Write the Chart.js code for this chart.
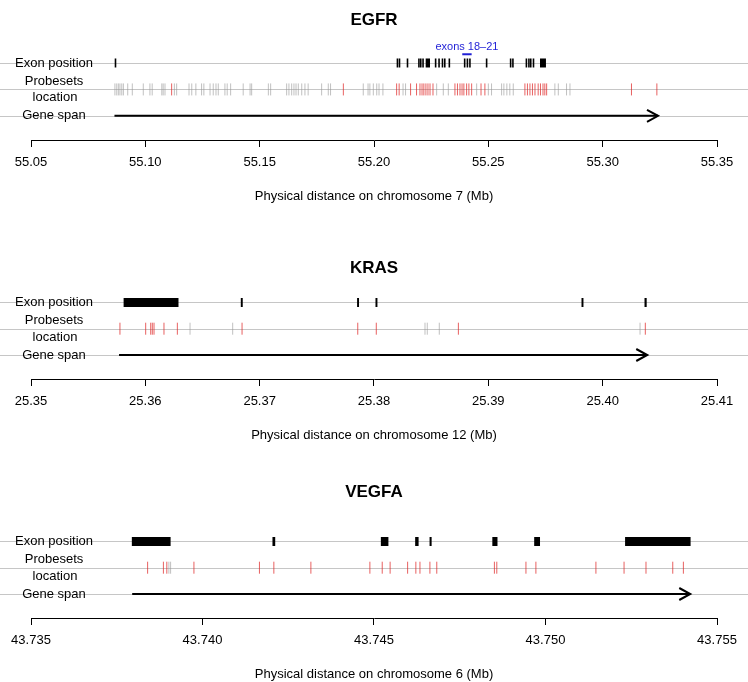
<!DOCTYPE html>
<html>
<head>
<meta charset="utf-8">
<script src="https://cdn.jsdelivr.net/npm/chart.js@4/dist/chart.umd.min.js"></script>
<style>
  html, body { margin: 0; padding: 0; background: #fff; }
  #wrap { position: relative; width: 748px; height: 682px; overflow: hidden; background: #fff; }
  #wrap canvas { position: absolute; left: 0; }
</style>
</head>
<body>
<div id="wrap">
  <canvas id="egfrChart"></canvas>
  <canvas id="krasChart"></canvas>
  <canvas id="vegfaChart"></canvas>
</div>
<script>
// row names (top to bottom)
const rowLabels = ['Exon position', ['Probesets', 'location'], 'Gene span'];

// EGFR - chromosome 7 (Mb)
const egfrRange = [55.05, 55.35];
const egfrTicks = [55.05, 55.10, 55.15, 55.20, 55.25, 55.30, 55.35];
const egfrSpan = [55.0865, 55.3242];
const egfrExonStart = [55.0866, 55.2099, 55.2108, 55.2143, 55.2193, 55.2201, 55.2211, 55.2226,
  55.2266, 55.2281, 55.2296, 55.2306, 55.2326, 55.2393, 55.2405, 55.2416, 55.2489, 55.2594,
  55.2604, 55.2663, 55.2674, 55.2682, 55.2694, 55.2726];
const egfrExonEnd = [55.0869, 55.2100, 55.2109, 55.2144, 55.2194, 55.2202, 55.2212, 55.2245,
  55.2267, 55.2282, 55.2297, 55.2307, 55.2327, 55.2394, 55.2406, 55.2417, 55.2490, 55.2595,
  55.2605, 55.2664, 55.2675, 55.2683, 55.2695, 55.2752];
const egfrProbeGray = [55.0867, 55.0875, 55.0882, 55.0889, 55.0897, 55.0904, 55.0923, 55.0943,
  55.0991, 55.1020, 55.1030, 55.1072, 55.1078, 55.1086, 55.1127, 55.1137, 55.1191, 55.1203,
  55.1221, 55.1246, 55.1256, 55.1283, 55.1297, 55.1309, 55.1319, 55.1348, 55.1358, 55.1373,
  55.1428, 55.1458, 55.1465, 55.1538, 55.1548, 55.1618, 55.1628, 55.1640, 55.1650, 55.1659,
  55.1669, 55.1684, 55.1698, 55.1712, 55.1771, 55.1800, 55.1810, 55.1953, 55.1974, 55.1982,
  55.1997, 55.2012, 55.2022, 55.2039, 55.2127, 55.2138, 55.2274, 55.2303, 55.2325, 55.2449,
  55.2500, 55.2514, 55.2558, 55.2568, 55.2581, 55.2594, 55.2609, 55.2791, 55.2806, 55.2842,
  55.2857];
const egfrProbeRed = [55.1115, 55.1866, 55.2099, 55.2110, 55.2160, 55.2186, 55.2201, 55.2210,
  55.2218, 55.2227, 55.2236, 55.2245, 55.2258, 55.2354, 55.2365, 55.2376, 55.2385, 55.2393,
  55.2405, 55.2415, 55.2427, 55.2468, 55.2485, 55.2660, 55.2671, 55.2682, 55.2693, 55.2704,
  55.2718, 55.2728, 55.2739, 55.2747, 55.2755, 55.3126, 55.3237];
const egfrHighlight = [55.2386, 55.2427];
const egfrHighlightLabel = 'exons 18\u201321';

// KRAS - chromosome 12 (Mb)
const krasRange = [25.35, 25.41];
const krasTicks = [25.35, 25.36, 25.37, 25.38, 25.39, 25.40, 25.41];
const krasSpan = [25.3577, 25.4039];
const krasExonStart = [25.3581, 25.36835, 25.37852, 25.38013, 25.39815, 25.40366];
const krasExonEnd = [25.3629, 25.36852, 25.37869, 25.38030, 25.39832, 25.40385];
const krasProbeGray = [25.36391, 25.36764, 25.38446, 25.38466, 25.38571, 25.40327];
const krasProbeRed = [25.35778, 25.36003, 25.36047, 25.36061, 25.36076, 25.36163, 25.36280,
  25.36846, 25.37858, 25.38020, 25.38738, 25.40373];

// VEGFA - chromosome 6 (Mb)
const vegfaRange = [43.735, 43.755];
const vegfaTicks = [43.735, 43.740, 43.745, 43.750, 43.755];
const vegfaSpan = [43.73795, 43.75422];
const vegfaExonStart = [43.73794, 43.74204, 43.74520, 43.74620, 43.74662, 43.74845, 43.74967, 43.75232];
const vegfaExonEnd = [43.73907, 43.74212, 43.74542, 43.74630, 43.74668, 43.74860, 43.74984, 43.75423];
const vegfaProbeGray = [43.73902, 43.73907];
const vegfaProbeRed = [43.73840, 43.73886, 43.73896, 43.73975, 43.74166, 43.74208, 43.74316,
  43.74488, 43.74524, 43.74547, 43.74598, 43.74622, 43.74634, 43.74663, 43.74683, 43.74851,
  43.74858, 43.74943, 43.74972, 43.75147, 43.75229, 43.75293, 43.75371, 43.75402];

const FONT = '"Liberation Sans", Arial, Helvetica, sans-serif';
Chart.defaults.font.family = FONT;
Chart.defaults.color = '#000';

// page layout (pixels)
const X_AXIS_H = 64;
const ROW_PX = 26.3;
const AXIS_GAP = 24;           // gene span row to axis line
const Y_MAX = 3.6;
const Y_MIN = 1 - AXIS_GAP / ROW_PX;
const TITLE_SIZE = 17;
const TITLE_LH = TITLE_SIZE * 1.2;

// draws the grey track lines, row names, arrow head and exon note
const trackPlugin = {
  id: 'tracks',
  beforeDatasetsDraw(chart) {
    const { ctx, width } = chart;
    const y = chart.scales.y;
    ctx.save();
    ctx.strokeStyle = '#c6c6c6';
    ctx.lineWidth = 1;
    [3, 2, 1].forEach(r => {
      const py = Math.round(y.getPixelForValue(r)) + 0.5;
      ctx.beginPath();
      ctx.moveTo(0, py);
      ctx.lineTo(width, py);
      ctx.stroke();
    });
    ctx.restore();
  },
  afterDatasetsDraw(chart, args, opts) {
    const { ctx } = chart;
    const x = chart.scales.x;
    const y = chart.scales.y;
    ctx.save();
    ctx.fillStyle = '#000';
    ctx.font = '13px ' + FONT;
    ctx.textAlign = 'center';
    ctx.textBaseline = 'middle';
    ctx.fillText(rowLabels[0], 54, y.getPixelForValue(3));
    ctx.fillText(rowLabels[1][0], 54, y.getPixelForValue(2) - 7.8);
    ctx.fillText(rowLabels[1][1], 55, y.getPixelForValue(2) + 8.4);
    ctx.fillText(rowLabels[2], 54, y.getPixelForValue(1));

    // arrow head at gene end
    const ax = x.getPixelForValue(opts.span[1]);
    const ay = y.getPixelForValue(1);
    ctx.strokeStyle = '#000';
    ctx.lineWidth = 2;
    ctx.beginPath();
    ctx.moveTo(ax - 11, ay - 6);
    ctx.lineTo(ax, ay);
    ctx.lineTo(ax - 11, ay + 6);
    ctx.stroke();

    if (opts.highlight) {
      const x0 = x.getPixelForValue(opts.highlight[0]);
      const x1 = x.getPixelForValue(opts.highlight[1]);
      const hy = y.getPixelForValue(3.33);
      ctx.strokeStyle = '#1f1fd6';
      ctx.lineWidth = 2;
      ctx.beginPath();
      ctx.moveTo(x0, hy);
      ctx.lineTo(x1, hy);
      ctx.stroke();
      ctx.fillStyle = '#1f1fd6';
      ctx.font = '11px ' + FONT;
      ctx.fillText(opts.highlightLabel, (x0 + x1) / 2, y.getPixelForValue(3.59));
    }
    ctx.restore();
  }
};

function makeChart(canvasId, p) {
  const el = document.getElementById(canvasId);
  const areaH = ROW_PX * (Y_MAX - Y_MIN);
  const axisY = p.geneY + AXIS_GAP;
  const top = Math.round(p.titleY - TITLE_LH / 2 - 4);
  const padTop = p.titleY - TITLE_LH / 2 - top;
  const padBottom = (axisY - areaH) - (p.titleY + TITLE_LH / 2);
  const h = Math.round(axisY + X_AXIS_H - top);
  el.width = 748;
  el.height = h;
  el.style.top = top + 'px';

  return new Chart(el, {
    type: 'scatter',
    data: {
      datasets: [
        {
          type: 'bar',
          indexAxis: 'y',
          data: p.exonStart.map((s, i) => ({ x: [s, p.exonEnd[i]], y: 3 })),
          backgroundColor: '#000',
          borderWidth: 0,
          inflateAmount: 0,
          barThickness: 9,
          minBarLength: 1.6
        },
        {
          type: 'scatter',
          data: p.probeRed.map(v => ({ x: v, y: 2 })),
          pointStyle: 'line',
          rotation: 90,
          radius: 6,
          borderColor: 'rgba(222, 30, 30, 0.7)',
          borderWidth: 1
        },
        {
          type: 'scatter',
          data: p.probeGray.map(v => ({ x: v, y: 2 })),
          pointStyle: 'line',
          rotation: 90,
          radius: 6,
          borderColor: 'rgba(150, 150, 150, 0.6)',
          borderWidth: 1
        },
        {
          type: 'line',
          data: [{ x: p.span[0], y: 1 }, { x: p.span[1], y: 1 }],
          borderColor: '#000',
          borderWidth: 2,
          pointRadius: 0
        }
      ]
    },
    options: {
      responsive: false,
      animation: false,
      devicePixelRatio: 1,
      events: [],
      layout: { padding: { left: 31, right: 31, top: 0, bottom: 0 } },
      plugins: {
        legend: { display: false },
        tooltip: { enabled: false },
        title: {
          display: true,
          text: p.name,
          color: '#000',
          font: { size: TITLE_SIZE, weight: 'bold' },
          padding: { top: padTop, bottom: padBottom }
        },
        tracks: { span: p.span, highlight: p.highlight, highlightLabel: p.highlightLabel }
      },
      scales: {
        x: {
          type: 'linear',
          min: p.range[0],
          max: p.range[1],
          afterBuildTicks: s => { s.ticks = p.ticks.map(v => ({ value: v })); },
          afterFit: s => { s.height = X_AXIS_H; },
          ticks: {
            callback: v => v.toFixed(p.digits),
            color: '#000',
            font: { size: 13 },
            padding: 8,
            maxRotation: 0,
            autoSkip: false
          },
          grid: { drawOnChartArea: false, drawTicks: true, tickLength: 7, color: '#000' },
          border: { display: true, color: '#000', width: 1 },
          title: {
            display: true,
            text: p.xTitle,
            color: '#000',
            font: { size: 13 },
            padding: { top: 0, bottom: 0 }
          }
        },
        y: { type: 'linear', min: Y_MIN, max: Y_MAX, display: false, offset: false }
      }
    },
    plugins: [trackPlugin]
  });
}

makeChart('egfrChart', {
  name: 'EGFR', titleY: 20, geneY: 115.5, digits: 2,
  range: egfrRange, ticks: egfrTicks, span: egfrSpan,
  exonStart: egfrExonStart, exonEnd: egfrExonEnd,
  probeRed: egfrProbeRed, probeGray: egfrProbeGray,
  highlight: egfrHighlight, highlightLabel: egfrHighlightLabel,
  xTitle: 'Physical distance on chromosome 7 (Mb)'
});
makeChart('krasChart', {
  name: 'KRAS', titleY: 268, geneY: 355, digits: 2,
  range: krasRange, ticks: krasTicks, span: krasSpan,
  exonStart: krasExonStart, exonEnd: krasExonEnd,
  probeRed: krasProbeRed, probeGray: krasProbeGray,
  xTitle: 'Physical distance on chromosome 12 (Mb)'
});
makeChart('vegfaChart', {
  name: 'VEGFA', titleY: 492, geneY: 594, digits: 3,
  range: vegfaRange, ticks: vegfaTicks, span: vegfaSpan,
  exonStart: vegfaExonStart, exonEnd: vegfaExonEnd,
  probeRed: vegfaProbeRed, probeGray: vegfaProbeGray,
  xTitle: 'Physical distance on chromosome 6 (Mb)'
});
</script>
</body>
</html>
